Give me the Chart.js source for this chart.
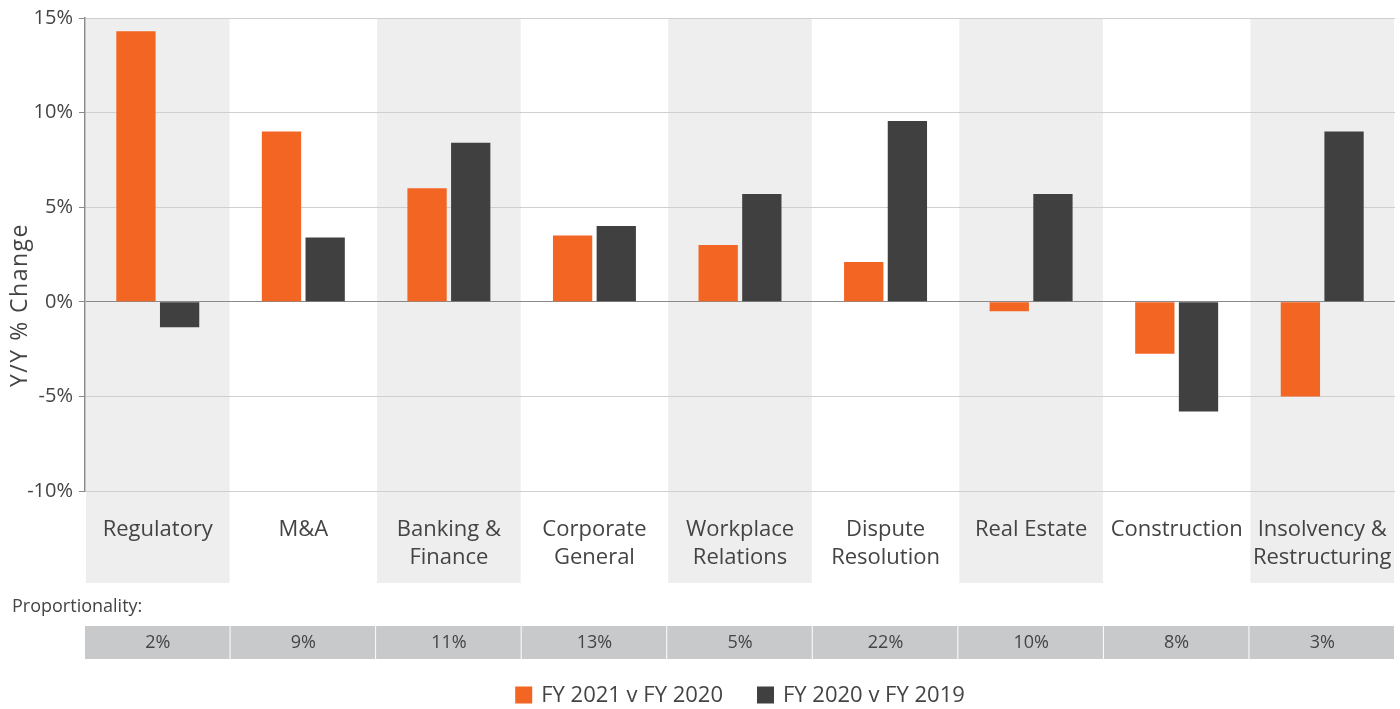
<!DOCTYPE html>
<html>
<head>
<meta charset="utf-8">
<script src="https://cdn.jsdelivr.net/npm/chart.js@4"></script>
<style>
  html, body { margin: 0; padding: 0; background: #fff; }
  #wrap { width: 1400px; height: 709px; }
</style>
</head>
<body>
<div id="wrap"><canvas id="chart"></canvas></div>
<script>
const categories = ['Regulatory', 'M&A', ['Banking &', 'Finance'], ['Corporate', 'General'],
    ['Workplace', 'Relations'], ['Dispute', 'Resolution'], 'Real Estate', 'Construction',
    ['Insolvency &', 'Restructuring']];
const fy21 = [14.3, 9.0, 6.0, 3.5, 3.0, 2.1, -0.5, -2.75, -5.0];
const fy20 = [-1.35, 3.4, 8.4, 4.0, 5.7, 9.55, 5.7, -5.8, 9.0];
const proportionality = ['2%', '9%', '11%', '13%', '5%', '22%', '10%', '8%', '3%'];
const yTicks = { min: -10, max: 15, step: 5 };

const FONT = "'Open Sans', 'Noto Sans', sans-serif";
const TEXT = '#444444';

// shaded columns behind alternate categories, axis title, proportionality row and legend
const extrasPlugin = {
    id: 'extras',
    beforeDraw(chart) {
        const { ctx, chartArea, scales: { x } } = chart;
        const w = (chartArea.right - chartArea.left) / categories.length;
        ctx.save();
        ctx.fillStyle = '#eeeeee';
        categories.forEach((c, i) => {
            if (i % 2 === 0) {
                const cx = x.getPixelForValue(i);
                const left = Math.max(cx - w / 2 + 1, chartArea.left + 1);
                ctx.fillRect(left, chartArea.top, cx + w / 2 - 1 - left, 583 - chartArea.top);
            }
        });
        ctx.restore();
    },
    afterDraw(chart) {
        const { ctx, chartArea, scales: { x } } = chart;
        const w = (chartArea.right - chartArea.left) / categories.length;
        ctx.save();

        // y axis title, centred on plot + label area
        ctx.save();
        ctx.translate(20, 305);
        ctx.rotate(-Math.PI / 2);
        ctx.font = '23px ' + FONT;
        ctx.letterSpacing = '1.5px';
        ctx.fillStyle = TEXT;
        ctx.textAlign = 'center';
        ctx.textBaseline = 'middle';
        ctx.fillText('Y/Y % Change', 0, 0);
        ctx.restore();

        ctx.font = '18px ' + FONT;
        ctx.fillStyle = TEXT;
        ctx.textBaseline = 'middle';
        ctx.textAlign = 'left';
        ctx.fillText('Proportionality:', 12, 607);
        ctx.textAlign = 'center';
        proportionality.forEach((p, i) => {
            const cx = x.getPixelForValue(i);
            ctx.fillStyle = '#c8c9cb';
            ctx.fillRect(cx - w / 2, 626, w - 1, 33);
            ctx.fillStyle = TEXT;
            ctx.fillText(p, cx, 643);
        });

        // legend, centred on the plot area
        ctx.font = '22px ' + FONT;
        ctx.textAlign = 'left';
        const box = 17, gap = 9, between = 34;
        const items = chart.data.datasets.map(d => ({ text: d.label, color: d.backgroundColor, tw: ctx.measureText(d.label).width }));
        const total = items.reduce((s, it) => s + box + gap + it.tw, 0) + between * (items.length - 1);
        let lx = (chartArea.left + chartArea.right) / 2 - total / 2;
        const ly = 695;
        items.forEach(it => {
            ctx.fillStyle = it.color;
            ctx.fillRect(lx, ly - box / 2, box, box);
            ctx.fillStyle = TEXT;
            ctx.fillText(it.text, lx + box + gap, ly + 1);
            lx += box + gap + it.tw + between;
        });
        ctx.restore();
    }
};

new Chart(document.getElementById('chart'), {
    type: 'bar',
    data: {
        labels: categories,
        datasets: [
            { label: 'FY 2021 v FY 2020', data: fy21, backgroundColor: '#f26522' },
            { label: 'FY 2020 v FY 2019', data: fy20, backgroundColor: '#404040' }
        ]
    },
    options: {
        responsive: true,
        maintainAspectRatio: false,
        animation: false,
        datasets: { bar: { categoryPercentage: 0.6, barPercentage: 0.9 } },
        layout: { padding: { left: 0, right: 5, top: 13, bottom: 0 } },
        scales: {
            x: {
                grid: { display: false },
                border: { display: false },
                ticks: { color: TEXT, font: { family: FONT, size: 22, lineHeight: 1.27 }, padding: 17, maxRotation: 0, autoSkip: false },
                afterFit(s) { s.height = 218; s.paddingLeft = 0; s.paddingRight = 0; }
            },
            y: {
                min: yTicks.min,
                max: yTicks.max,
                ticks: {
                    stepSize: yTicks.step,
                    color: TEXT,
                    font: { family: FONT, size: 20 },
                    padding: 6,
                    callback: v => v + '%'
                },
                grid: {
                    color: c => c.tick && c.tick.value === 0 ? '#8a8a8a' : '#cfcfcf',
                    tickColor: '#8a8a8a',
                    tickLength: 6
                },
                border: { color: '#8a8a8a', width: 1.5 },
                afterFit(s) { s.width = 85; }
            }
        },
        plugins: {
            legend: { display: false },
            tooltip: { enabled: false }
        }
    },
    plugins: [extrasPlugin]
});
</script>
</body>
</html>
